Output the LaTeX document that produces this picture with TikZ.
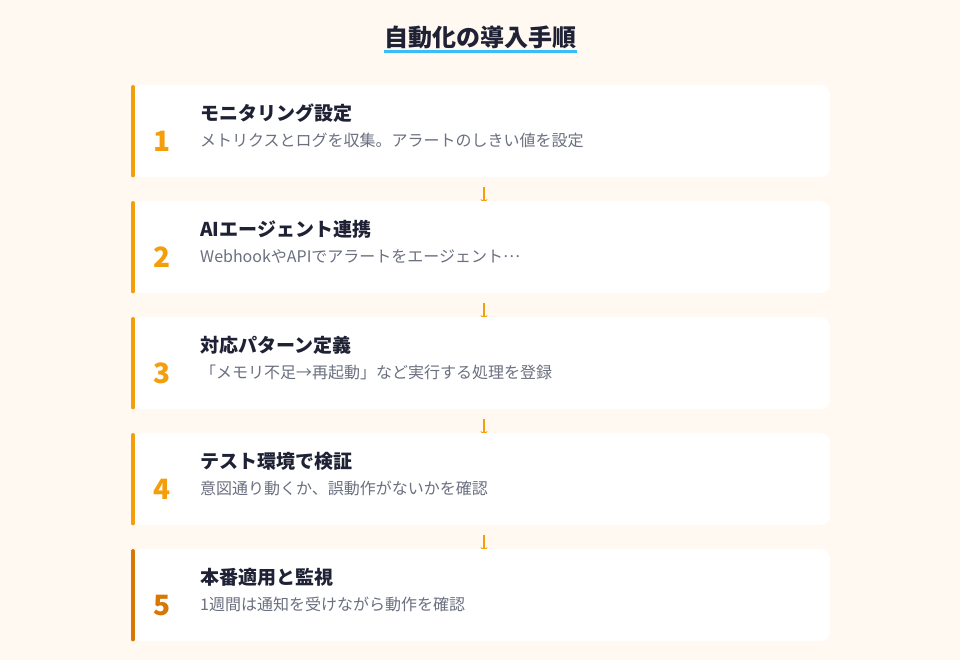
\documentclass[tikz,border=0pt]{standalone}
\usepackage{fontspec}
\setmainfont{Noto Sans CJK JP}
\usetikzlibrary{calc,arrows.meta}
\definecolor{bgc}{HTML}{FFF9F1}
\definecolor{ink}{HTML}{1F2235}
\definecolor{gray}{HTML}{6B7080}
\definecolor{orng}{HTML}{F59E0B}
\definecolor{orngd}{HTML}{D97706}
\definecolor{cyanline}{HTML}{38BDF8}
\newcommand{\fwell}{\raisebox{0.3em}{…}}
\tikzset{
  card/.style={fill=white, draw=none, rounded corners=10pt, minimum width=699pt, minimum height=92pt, anchor=north west, inner sep=0pt},
  bar/.style={line width=4pt, line cap=round},
  num/.style={font=\fontsize{28}{28}\selectfont\bfseries, anchor=center},
  ttl/.style={font=\fontsize{19}{20}\selectfont\bfseries, text=ink, anchor=west, inner sep=0pt},
  desc/.style={font=\fontsize{16}{18}\selectfont, text=gray, anchor=west, inner sep=0pt},
  conn/.style={draw=orng, line width=1.5pt, -{Stealth[length=6pt,width=7pt]}},
}
\begin{document}
\begin{tikzpicture}[x=1pt,y=-1pt]
\useasboundingbox[fill=bgc] (0,0) rectangle (960,660);
\node[font=\fontsize{24}{26}\selectfont\bfseries, text=ink, inner sep=0pt] (title) at (480.5,37) {自動化の導入手順};
\draw[cyanline, line width=3pt] (384,51.5) -- (577,51.5);
% connectors (behind cards)
\foreach \i in {0,...,3}{
  \coordinate (cs\i) at (484,{187+116*\i});
  \coordinate (ce\i) at (484,{205+116*\i});
  \draw[conn] (cs\i) -- (ce\i);
}
\foreach \i/\t/\d/\c in {
  1/モニタリング設定/メトリクスとログを収集。アラートのしきい値を設定/orng,
  2/AIエージェント連携/WebhookやAPIでアラートをエージェント\fwell/orng,
  3/対応パターン定義/「メモリ不足→再起動」など実行する処理を登録/orng,
  4/テスト環境で検証/意図通り動くか、誤動作がないかを確認/orng,
  5/本番適用と監視/1週間は通知を受けながら動作を確認/orngd}{
  \node[card] (card\i) at (131,{85+116*(\i-1)}) {};
  \draw[bar, \c] ($(card\i.north west)+(2,2)$) -- ($(card\i.south west)+(2,-2)$);
  \node[num, text=\c] (n\i) at ($(card\i.west)+(31,10)$) {\i};
  \node[ttl] (t\i) at ($(card\i.north west)+(69,28)$) {\t};
  \node[desc] (d\i) at ($(card\i.north west)+(69,55)$) {\d};
}
\end{tikzpicture}
\end{document}
